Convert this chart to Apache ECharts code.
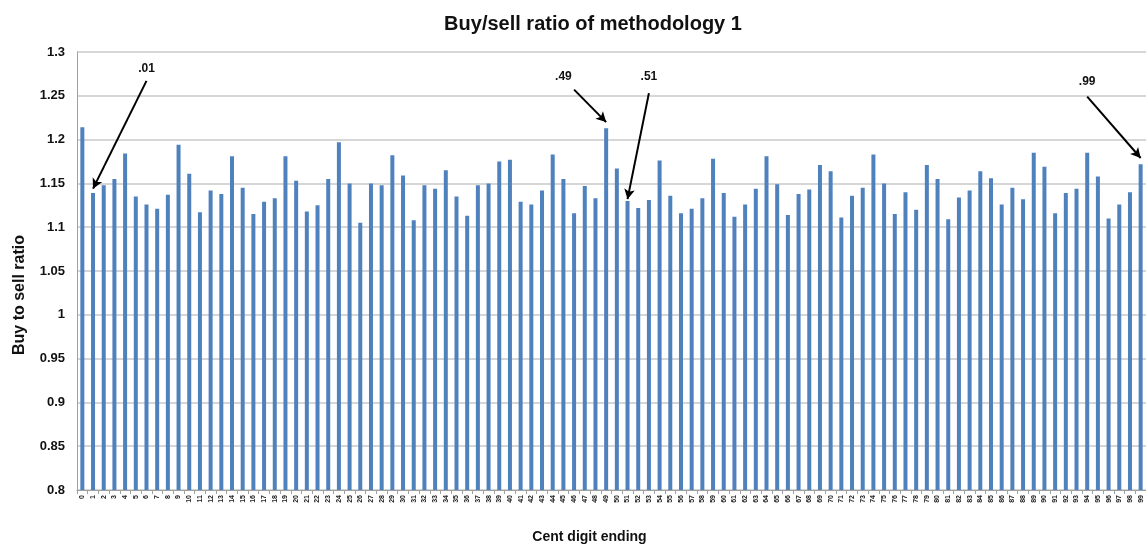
<!DOCTYPE html>
<html><head><meta charset="utf-8">
<script src="https://cdn.jsdelivr.net/npm/echarts@6/dist/echarts.min.js"></script>
<style>html,body{margin:0;padding:0;background:#fff}#c{width:1146px;height:549px}</style>
</head><body><div id="c"></div>
<script>
const categories = Array.from({length:100}, (_, i) => String(i));
const ratios = [
 1.214,1.139,1.148,1.155,1.184,1.135,1.126,1.121,1.137,1.194,
 1.161,1.117,1.142,1.138,1.181,1.145,1.115,1.129,1.133,1.181,
 1.153,1.118,1.125,1.155,1.197,1.150,1.105,1.150,1.148,1.182,
 1.159,1.108,1.148,1.144,1.165,1.135,1.113,1.148,1.150,1.175,
 1.177,1.129,1.126,1.142,1.183,1.155,1.116,1.147,1.133,1.213,
 1.167,1.130,1.122,1.131,1.176,1.136,1.116,1.121,1.133,1.178,
 1.139,1.112,1.126,1.144,1.181,1.149,1.114,1.138,1.143,1.171,
 1.164,1.111,1.136,1.145,1.183,1.150,1.115,1.140,1.120,1.171,
 1.155,1.109,1.134,1.142,1.164,1.156,1.126,1.145,1.132,1.185,
 1.169,1.116,1.139,1.144,1.185,1.158,1.110,1.126,1.140,1.172
];
const yTicks = {min:0.8, max:1.3, interval:0.05};
const annLabels   = ['.01', '.49', '.51', '.99'];
const annLabelCat = [6, 45, 53, 94];
const annLabelVal = [1.281, 1.272, 1.272, 1.266];
const annStartCat = [6, 46, 53, 94];
const annStartVal = [1.267, 1.257, 1.253, 1.249];
const annEndCat   = [1, 49, 51, 99];
const annEndVal   = [1.144, 1.220, 1.132, 1.179];

const FONT = '"Liberation Sans", Arial, sans-serif';
const chart = echarts.init(document.getElementById('c'));
chart.setOption({
  animation:false,
  title:{text:'Buy/sell ratio of methodology 1', left:588, top:9, textAlign:'center',
    textStyle:{fontFamily:FONT, fontSize:20, fontWeight:'bold', color:'#111'}},
  grid:{left:77, right:0, top:52, bottom:59},
  xAxis:{type:'category', data:categories,
    name:'Cent digit ending', nameLocation:'middle', nameGap:40,
    nameTextStyle:{fontFamily:FONT, fontSize:14, fontWeight:'bold', color:'#111', padding:[0,44,0,0]},
    axisLine:{lineStyle:{color:'#a0a0a0', width:1}},
    axisTick:{show:true, alignWithLabel:false, length:4, lineStyle:{color:'#a0a0a0'}},
    axisLabel:{interval:0, rotate:90, fontFamily:FONT, fontSize:7, fontWeight:'bold', color:'#222', margin:5}},
  yAxis:{type:'value', min:yTicks.min, max:yTicks.max, interval:yTicks.interval,
    name:'Buy to sell ratio', nameLocation:'middle', nameGap:49,
    nameTextStyle:{fontFamily:FONT, fontSize:16, fontWeight:'bold', color:'#111', padding:[0,48,0,0]},
    axisLine:{show:true, lineStyle:{color:'#a0a0a0', width:1}},
    axisTick:{show:false},
    splitLine:{lineStyle:{color:'#c8c8c8', width:1.5}},
    axisLabel:{fontFamily:FONT, fontSize:13, fontWeight:'bold', color:'#111', margin:12,
      formatter:v => String(+v.toFixed(2))}},
  series:[{type:'bar', data:ratios, barWidth:4, itemStyle:{color:'#4F81BD'},
    markLine:{silent:true, symbol:['none','arrow'], symbolSize:[8,10],
      lineStyle:{color:'#000', width:2, type:'solid'}, label:{show:false},
      data: annLabels.map((t,i)=>[{coord:[annStartCat[i], annStartVal[i]]},{coord:[annEndCat[i], annEndVal[i]]}])},
    markPoint:{silent:true, symbol:'circle', symbolSize:0,
      label:{show:true, position:'inside', fontFamily:FONT, fontSize:12, fontWeight:'bold', color:'#111',
        formatter:p => p.name},
      data: annLabels.map((t,i)=>({name:t, coord:[annLabelCat[i], annLabelVal[i]]}))}
  }]
});
</script></body></html>
